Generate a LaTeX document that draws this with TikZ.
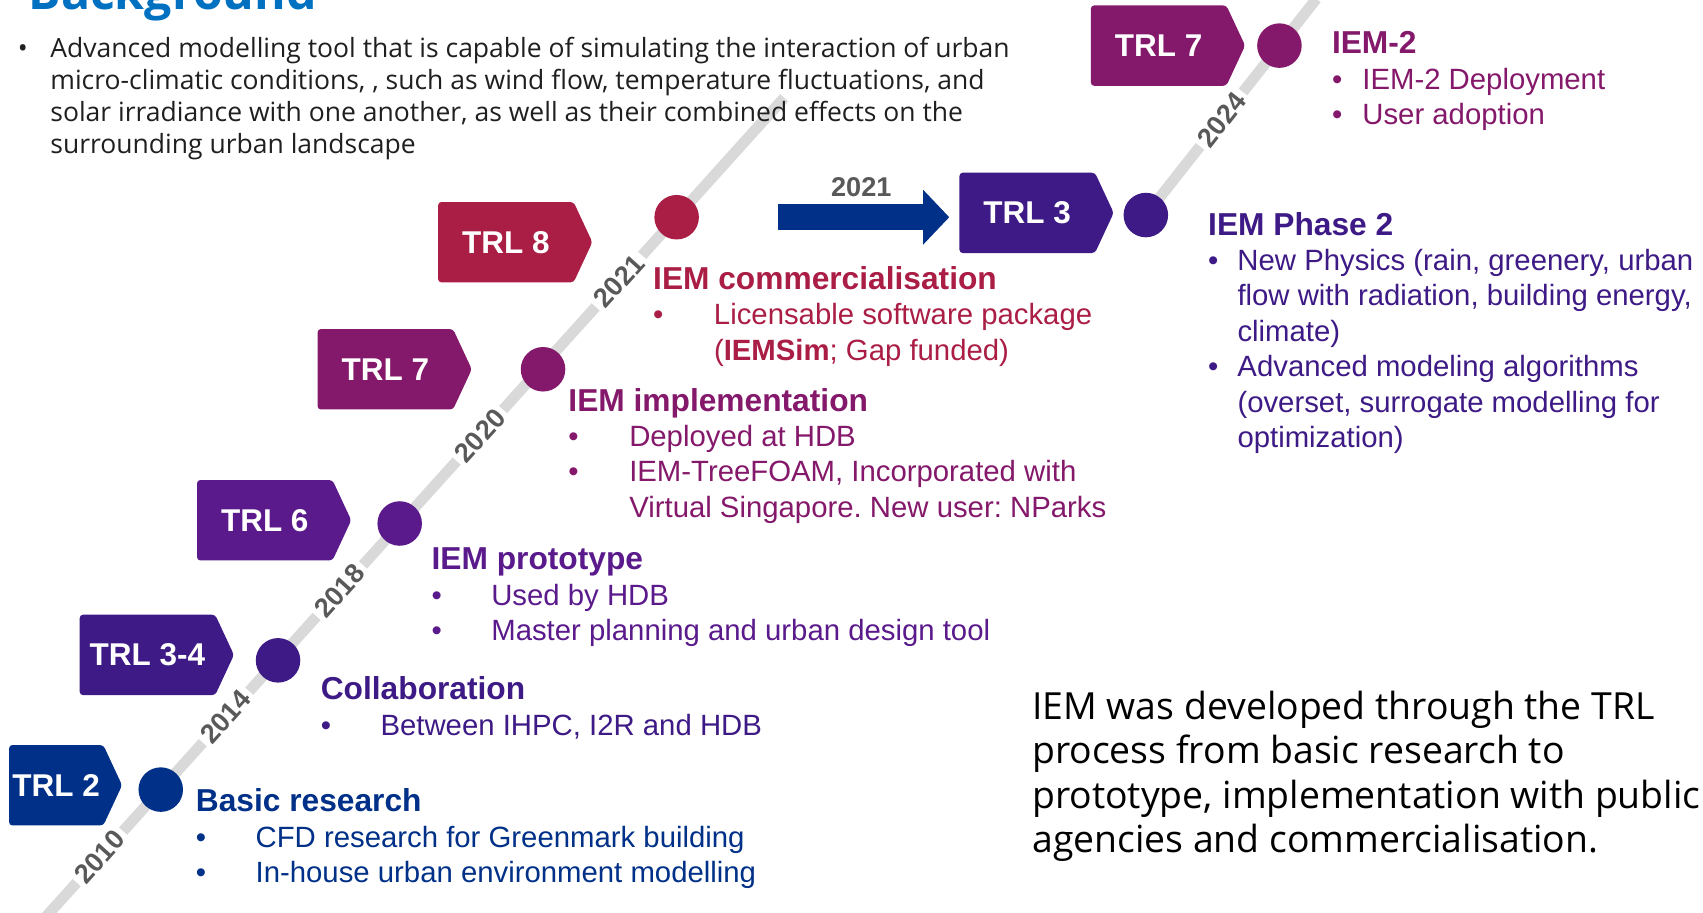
\documentclass[tikz,border=0pt]{standalone}
\usepackage{fontspec}
\setmainfont{Liberation Sans}
\newfontfamily\opensans{Open Sans}
\usetikzlibrary{shapes.symbols,arrows.meta}
\frenchspacing
\definecolor{Navy}{HTML}{003087}
\definecolor{Indigo}{HTML}{3D1A85}
\definecolor{Violet}{HTML}{5A1A8B}
\definecolor{Plum}{HTML}{84186A}
\definecolor{Crimson}{HTML}{AA1D45}
\definecolor{Track}{HTML}{D9D9D9}
\definecolor{YearGrey}{HTML}{595959}
\definecolor{TitleBlue}{HTML}{0070C0}
\definecolor{Ink}{HTML}{1F1F1F}
\newcommand{\hd}{\fontsize{14.6}{16.3}\selectfont\bfseries}
\tikzset{
  tagbox/.style={signal,signal to=east,signal pointer angle=130,fill=#1,rounded corners=1.5pt,text=white,font=\fontsize{14.5}{16}\selectfont\bfseries,minimum width=71pt,minimum height=37pt,inner sep=0pt,anchor=west},
  stagedot/.style={circle,fill=#1,minimum size=20.5pt,inner sep=0pt},
  track/.style={draw=Track,line width=5pt},
  yearlbl/.style={fill=white,text=YearGrey,font=\fontsize{12.5}{12.5}\selectfont\bfseries,inner sep=2pt},
  stagetxt/.style={text=#1,font=\fontsize{13.5}{16.3}\selectfont,inner sep=0pt,anchor=base west},
  shiftarrow/.style={draw=Navy,line width=12pt,-{Triangle[length=12pt,width=24.5pt]}}
}

\begin{document}
\begin{tikzpicture}[x=0.5pt,y=-0.5pt]
  \useasboundingbox (0,0) rectangle (1568,840);
  \clip (0,0) rectangle (1568,840);

  % the two stretches of the timeline
  \coordinate (trackA0) at (18,871);
  \coordinate (trackA1) at (722,90);
  \coordinate (trackB0) at (1055,198);
  \coordinate (trackB1) at (1212,-1);
  \draw[track] (trackA0) -- (trackA1);
  \draw[track] (trackB0) -- (trackB1);

  % header and intro
  \node[anchor=base west,inner sep=0pt,text=TitleBlue,font=\opensans\bfseries\fontsize{22.2}{24}\selectfont] (title) at (26,9) {Background};
  \node[anchor=base west,inner sep=0pt,text=Ink,font=\opensans\fontsize{12.2}{14.75}\selectfont] (intro) at (16,53) {\begin{tabular}[t]{@{}p{15pt}@{}l@{}}
    \textbullet & Advanced modelling tool that is capable of simulating the interaction of urban\\
    & micro-climatic conditions, , such as wind flow, temperature fluctuations, and\\
    & solar irradiance with one another, as well as their combined effects on the\\
    & surrounding urban landscape
  \end{tabular}};

  \node[yearlbl,rotate=48] (y2010) at (92,789) {2010};
  \node[yearlbl,rotate=48] (y2014) at (208,660) {2014};
  \node[yearlbl,rotate=48] (y2018) at (313,544) {2018};
  \node[yearlbl,rotate=48] (y2020) at (442,401) {2020};
  \node[yearlbl,rotate=48] (y2021) at (570,259) {2021};
  \node[yearlbl,rotate=52] (y2024) at (1125,110) {2024};

  % milestones
  \node[stagedot=Navy] (d2) at (148,727) {};
  \node[stagedot=Indigo] (d34) at (256,608) {};
  \node[stagedot=Violet] (d6) at (368,482) {};
  \node[stagedot=Plum] (d7) at (500,340) {};
  \node[stagedot=Crimson] (d8) at (623,200) {};
  \node[stagedot=Indigo] (d3b) at (1055,198) {};
  \node[stagedot=Plum] (d7b) at (1178,42) {};

  \node[tagbox=Navy,minimum width=52pt] (trl2) at (8,723) {TRL 2};
  \node[tagbox=Indigo] (trl34) at (73,603) {TRL 3-4};
  \node[tagbox=Violet] (trl6) at (181,479) {TRL 6};
  \node[tagbox=Plum] (trl7) at (292,340) {TRL 7};
  \node[tagbox=Crimson] (trl8) at (403,223) {TRL 8};
  \node[tagbox=Indigo] (trl3b) at (883,196) {TRL 3};
  \node[tagbox=Plum] (trl7b) at (1004,42) {TRL 7};

  % restart as IEM-2
  \coordinate (shiftstart) at (716,200);
  \draw[shiftarrow,shorten >=4.5pt] (shiftstart) -- (shiftstart -| trl3b.west);
  \node[text=YearGrey,font=\fontsize{12.5}{12.5}\selectfont\bfseries] (shiftyear) at (793,172) {2021};

  % what happened at each stage
  \node[stagetxt=Navy] (basic) at (180,747.5) {\begin{tabular}[t]{@{}p{27.5pt}@{}l@{}}
    \multicolumn{2}{@{}l@{}}{\hd Basic research}\\
    \textbullet & CFD research for Greenmark building\\
    \textbullet & In-house urban environment modelling
  \end{tabular}};
  \node[stagetxt=Indigo] (collab) at (295,644.5) {\begin{tabular}[t]{@{}p{27.5pt}@{}l@{}}
    \multicolumn{2}{@{}l@{}}{\hd Collaboration}\\
    \textbullet & Between IHPC, I2R and HDB
  \end{tabular}};
  \node[stagetxt=Violet] (proto) at (397,524.5) {\begin{tabular}[t]{@{}p{27.5pt}@{}l@{}}
    \multicolumn{2}{@{}l@{}}{\hd IEM prototype}\\
    \textbullet & Used by HDB\\
    \textbullet & Master planning and urban design tool
  \end{tabular}};
  \node[stagetxt=Plum] (impl) at (523,378.5) {\begin{tabular}[t]{@{}p{28pt}@{}l@{}}
    \multicolumn{2}{@{}l@{}}{\hd IEM implementation}\\
    \textbullet & Deployed at HDB\\
    \textbullet & IEM-TreeFOAM, Incorporated with\\
    & Virtual Singapore. New user: NParks
  \end{tabular}};
  \node[stagetxt=Crimson] (comm) at (601,266.5) {\begin{tabular}[t]{@{}p{28pt}@{}l@{}}
    \multicolumn{2}{@{}l@{}}{\hd IEM commercialisation}\\
    \textbullet & Licensable software package\\
    & (\textbf{IEMSim}; Gap funded)
  \end{tabular}};
  \node[stagetxt=Indigo] (phase2) at (1112,216.5) {\begin{tabular}[t]{@{}p{13.5pt}@{}l@{}}
    \multicolumn{2}{@{}l@{}}{\hd IEM Phase 2}\\
    \textbullet & New Physics (rain, greenery, urban\\
    & flow with radiation, building energy,\\
    & climate)\\
    \textbullet & Advanced modeling algorithms\\
    & (overset, surrogate modelling for\\
    & optimization)
  \end{tabular}};
  \node[stagetxt=Plum] (iem2) at (1226,49.5) {\begin{tabular}[t]{@{}p{14pt}@{}l@{}}
    \multicolumn{2}{@{}l@{}}{\hd IEM-2}\\
    \textbullet & IEM-2 Deployment\\
    \textbullet & User adoption
  \end{tabular}};

  \node[anchor=base west,inner sep=0pt,text=black,font=\opensans\fontsize{17.2}{20.5}\selectfont] (summary) at (950,662) {\begin{tabular}[t]{@{}l@{}}
    IEM was developed through the TRL\\
    process from basic research to\\
    prototype, implementation with public\\
    agencies and commercialisation.
  \end{tabular}};
\end{tikzpicture}
\end{document}
